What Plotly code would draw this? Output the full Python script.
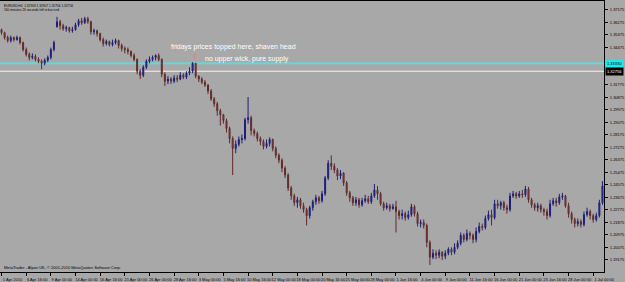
import plotly.graph_objects as go

# ---------------- data (EURUSD H4) ----------------
opens = [
    1.3575, 1.3553, 1.3518, 1.3496, 1.3518, 1.3503, 1.3518, 1.3482, 1.3432, 1.3397,
    1.3375, 1.3382, 1.3361, 1.3347, 1.3333, 1.3354, 1.3375, 1.3432, 1.3596, 1.3632,
    1.3603, 1.3582, 1.3589, 1.3567, 1.3575, 1.3610, 1.3639, 1.3624, 1.3653, 1.3632,
    1.3560, 1.3567, 1.3546, 1.3503, 1.3475, 1.3489, 1.3468, 1.3482, 1.3496, 1.3461,
    1.3439, 1.3432, 1.3418, 1.3389, 1.3361, 1.3276, 1.3247, 1.3304, 1.3347, 1.3361,
    1.3375, 1.3389, 1.3361, 1.3254, 1.3204, 1.3219, 1.3204, 1.3226, 1.3219, 1.3247,
    1.3233, 1.3261, 1.3276, 1.3333, 1.3240, 1.3219, 1.3197, 1.3176, 1.3133, 1.3076,
    1.3041, 1.2991, 1.2962, 1.2920, 1.2863, 1.2791, 1.2720, 1.2749, 1.2784, 1.2791,
    1.2927, 1.2941, 1.2848, 1.2827, 1.2791, 1.2770, 1.2734, 1.2756, 1.2784, 1.2720,
    1.2670, 1.2635, 1.2578, 1.2528, 1.2435, 1.2378, 1.2329, 1.2350, 1.2307, 1.2279,
    1.2236, 1.2293, 1.2336, 1.2364, 1.2343, 1.2393, 1.2507, 1.2613, 1.2592, 1.2564,
    1.2521, 1.2542, 1.2471, 1.2400, 1.2364, 1.2329, 1.2350, 1.2314, 1.2343, 1.2357,
    1.2336, 1.2378, 1.2421, 1.2393, 1.2321, 1.2293, 1.2307, 1.2286, 1.2300, 1.2265,
    1.2236, 1.2250, 1.2222, 1.2243, 1.2300, 1.2250, 1.2179, 1.2186, 1.2165, 1.2044,
    1.1937, 1.1965, 1.1951, 1.1973, 1.1944, 1.1965, 1.1994, 1.1973, 1.2008, 1.2037,
    1.2094, 1.2065, 1.2108, 1.2094, 1.2065, 1.2122, 1.2158, 1.2151, 1.2215, 1.2243,
    1.2222, 1.2321, 1.2307, 1.2329, 1.2293, 1.2279, 1.2378, 1.2393, 1.2378, 1.2393,
    1.2386, 1.2428, 1.2350, 1.2314, 1.2293, 1.2307, 1.2279, 1.2265, 1.2236, 1.2321,
    1.2343, 1.2329, 1.2371, 1.2378, 1.2307, 1.2250, 1.2208, 1.2179, 1.2193, 1.2172,
    1.2243, 1.2265, 1.2236, 1.2208, 1.2236, 1.2329,
]
highs = [
    1.3582, 1.3560, 1.3532, 1.3532, 1.3525, 1.3532, 1.3525, 1.3489, 1.3446, 1.3411,
    1.3404, 1.3397, 1.3375, 1.3361, 1.3368, 1.3389, 1.3446, 1.3496, 1.3667, 1.3646,
    1.3617, 1.3603, 1.3596, 1.3596, 1.3624, 1.3653, 1.3660, 1.3667, 1.3667, 1.3639,
    1.3582, 1.3575, 1.3553, 1.3518, 1.3503, 1.3496, 1.3503, 1.3511, 1.3503, 1.3475,
    1.3454, 1.3446, 1.3425, 1.3404, 1.3368, 1.3290, 1.3318, 1.3361, 1.3382, 1.3389,
    1.3397, 1.3404, 1.3368, 1.3268, 1.3240, 1.3233, 1.3247, 1.3247, 1.3268, 1.3261,
    1.3276, 1.3304, 1.3340, 1.3333, 1.3247, 1.3233, 1.3211, 1.3183, 1.3147, 1.3090,
    1.3055, 1.3005, 1.2969, 1.2934, 1.2877, 1.2806, 1.2777, 1.2806, 1.2820, 1.2941,
    1.3090, 1.2955, 1.2863, 1.2841, 1.2806, 1.2784, 1.2784, 1.2799, 1.2791, 1.2734,
    1.2685, 1.2649, 1.2592, 1.2542, 1.2450, 1.2393, 1.2371, 1.2364, 1.2329, 1.2293,
    1.2307, 1.2350, 1.2386, 1.2378, 1.2414, 1.2521, 1.2635, 1.2670, 1.2613, 1.2578,
    1.2564, 1.2549, 1.2485, 1.2414, 1.2378, 1.2371, 1.2364, 1.2364, 1.2386, 1.2378,
    1.2400, 1.2464, 1.2450, 1.2407, 1.2336, 1.2329, 1.2321, 1.2321, 1.2343, 1.2279,
    1.2279, 1.2265, 1.2272, 1.2321, 1.2314, 1.2265, 1.2208, 1.2208, 1.2179, 1.2058,
    1.1994, 1.1987, 1.1994, 1.1980, 1.1987, 1.2008, 1.2008, 1.2037, 1.2058, 1.2115,
    1.2108, 1.2136, 1.2122, 1.2108, 1.2151, 1.2186, 1.2179, 1.2236, 1.2272, 1.2279,
    1.2350, 1.2350, 1.2343, 1.2343, 1.2314, 1.2400, 1.2414, 1.2407, 1.2414, 1.2421,
    1.2450, 1.2443, 1.2364, 1.2329, 1.2329, 1.2321, 1.2293, 1.2286, 1.2350, 1.2364,
    1.2364, 1.2393, 1.2400, 1.2386, 1.2329, 1.2265, 1.2222, 1.2215, 1.2208, 1.2265,
    1.2293, 1.2279, 1.2250, 1.2257, 1.2350, 1.2485,
]
lows = [
    1.3539, 1.3503, 1.3482, 1.3482, 1.3489, 1.3496, 1.3468, 1.3418, 1.3382, 1.3354,
    1.3361, 1.3347, 1.3333, 1.3290, 1.3318, 1.3340, 1.3361, 1.3418, 1.3589, 1.3575,
    1.3567, 1.3560, 1.3553, 1.3553, 1.3567, 1.3596, 1.3610, 1.3617, 1.3617, 1.3539,
    1.3539, 1.3525, 1.3489, 1.3454, 1.3461, 1.3454, 1.3454, 1.3468, 1.3439, 1.3418,
    1.3404, 1.3397, 1.3375, 1.3347, 1.3254, 1.3219, 1.3233, 1.3290, 1.3333, 1.3347,
    1.3354, 1.3347, 1.3233, 1.3169, 1.3183, 1.3183, 1.3190, 1.3197, 1.3211, 1.3219,
    1.3219, 1.3247, 1.3261, 1.3226, 1.3197, 1.3183, 1.3162, 1.3112, 1.3062, 1.3019,
    1.2955, 1.2884, 1.2898, 1.2834, 1.2756, 1.2528, 1.2685, 1.2734, 1.2756, 1.2777,
    1.2898, 1.2813, 1.2806, 1.2770, 1.2742, 1.2713, 1.2720, 1.2734, 1.2699, 1.2649,
    1.2613, 1.2549, 1.2507, 1.2414, 1.2350, 1.2307, 1.2293, 1.2286, 1.2257, 1.2165,
    1.2215, 1.2272, 1.2314, 1.2321, 1.2329, 1.2378, 1.2492, 1.2564, 1.2542, 1.2492,
    1.2499, 1.2450, 1.2378, 1.2336, 1.2307, 1.2307, 1.2293, 1.2300, 1.2329, 1.2321,
    1.2321, 1.2364, 1.2350, 1.2307, 1.2272, 1.2279, 1.2265, 1.2279, 1.2115, 1.2208,
    1.2208, 1.2200, 1.2208, 1.2229, 1.2229, 1.2158, 1.2151, 1.2143, 1.2008, 1.1880,
    1.1923, 1.1923, 1.1930, 1.1916, 1.1923, 1.1951, 1.1951, 1.1958, 1.1994, 1.2022,
    1.2044, 1.2051, 1.2065, 1.2037, 1.2044, 1.2108, 1.2129, 1.2136, 1.2200, 1.2165,
    1.2208, 1.2286, 1.2279, 1.2272, 1.2250, 1.2265, 1.2364, 1.2357, 1.2364, 1.2364,
    1.2371, 1.2329, 1.2293, 1.2272, 1.2265, 1.2257, 1.2236, 1.2208, 1.2222, 1.2307,
    1.2300, 1.2314, 1.2350, 1.2293, 1.2222, 1.2179, 1.2151, 1.2158, 1.2151, 1.2158,
    1.2229, 1.2208, 1.2186, 1.2193, 1.2222, 1.2314,
]
closes = [
    1.3553, 1.3518, 1.3496, 1.3518, 1.3503, 1.3518, 1.3482, 1.3432, 1.3397, 1.3375,
    1.3382, 1.3361, 1.3347, 1.3333, 1.3354, 1.3375, 1.3432, 1.3482, 1.3632, 1.3603,
    1.3582, 1.3589, 1.3567, 1.3575, 1.3610, 1.3639, 1.3624, 1.3653, 1.3632, 1.3560,
    1.3567, 1.3546, 1.3503, 1.3475, 1.3489, 1.3468, 1.3482, 1.3496, 1.3461, 1.3439,
    1.3432, 1.3418, 1.3389, 1.3361, 1.3276, 1.3247, 1.3304, 1.3347, 1.3361, 1.3375,
    1.3389, 1.3361, 1.3254, 1.3204, 1.3219, 1.3204, 1.3226, 1.3219, 1.3247, 1.3233,
    1.3261, 1.3276, 1.3333, 1.3240, 1.3219, 1.3197, 1.3176, 1.3133, 1.3076, 1.3041,
    1.2991, 1.2962, 1.2920, 1.2863, 1.2791, 1.2720, 1.2749, 1.2784, 1.2791, 1.2927,
    1.2941, 1.2848, 1.2827, 1.2791, 1.2770, 1.2734, 1.2756, 1.2784, 1.2720, 1.2670,
    1.2635, 1.2578, 1.2528, 1.2435, 1.2378, 1.2329, 1.2350, 1.2307, 1.2279, 1.2236,
    1.2293, 1.2336, 1.2364, 1.2343, 1.2393, 1.2507, 1.2613, 1.2592, 1.2564, 1.2521,
    1.2542, 1.2471, 1.2400, 1.2364, 1.2329, 1.2350, 1.2314, 1.2343, 1.2357, 1.2336,
    1.2378, 1.2421, 1.2393, 1.2321, 1.2293, 1.2307, 1.2286, 1.2300, 1.2265, 1.2236,
    1.2250, 1.2222, 1.2243, 1.2300, 1.2250, 1.2179, 1.2186, 1.2165, 1.2044, 1.1937,
    1.1965, 1.1951, 1.1973, 1.1944, 1.1965, 1.1994, 1.1973, 1.2008, 1.2037, 1.2094,
    1.2065, 1.2108, 1.2094, 1.2065, 1.2122, 1.2158, 1.2151, 1.2215, 1.2243, 1.2222,
    1.2321, 1.2307, 1.2329, 1.2293, 1.2279, 1.2378, 1.2393, 1.2378, 1.2393, 1.2386,
    1.2428, 1.2350, 1.2314, 1.2293, 1.2307, 1.2279, 1.2265, 1.2236, 1.2321, 1.2343,
    1.2329, 1.2371, 1.2378, 1.2307, 1.2250, 1.2208, 1.2179, 1.2193, 1.2172, 1.2243,
    1.2265, 1.2236, 1.2208, 1.2236, 1.2329, 1.2450,
]
assert len(opens) == len(highs) == len(lows) == len(closes) == 196

# time-axis labels and the bar index each one sits on
time_labels = [
    "1 Apr 2010", "6 Apr 16:00", "9 Apr 00:00", "14 Apr 00:00", "16 Apr 16:00",
    "21 Apr 00:00", "26 Apr 00:00", "28 Apr 16:00", "3 May 00:00", "5 May 16:00",
    "10 May 16:00", "12 May 00:00", "18 May 00:00", "20 May 16:00", "25 May 00:00",
    "28 May 00:00", "1 Jun 16:00", "4 Jun 00:00", "9 Jun 00:00", "11 Jun 16:00",
    "16 Jun 00:00", "21 Jun 00:00", "23 Jun 16:00", "28 Jun 00:00", "1 Jul 00:00",
]
time_label_bars = [0, 8, 16, 24, 32, 40, 48, 56, 64, 72, 80, 88, 96, 104, 112,
                   120, 128, 136, 144, 152, 160, 168, 176, 184, 192]

# price-axis ticks (the two hidden under the line labels are left out)
price_ticks = [1.37175, 1.36275, 1.35375, 1.34475, 1.31775,
               1.30875, 1.29975, 1.29075, 1.28175, 1.27275, 1.26375, 1.25475,
               1.24575, 1.23675, 1.22775, 1.21875, 1.20975, 1.20075, 1.19175]

bid_price = 1.32756          # white bid line
resistance_level = 1.33330   # cyan line drawn at Friday's top
shaven_bar = 63              # the bar with no upper wick
y_range = [1.18302, 1.37811]

header_line1 = "EURUSD,H4  1.32903 1.32907 1.32756 1.32756"
header_line2 = "160 minutes 26 seconds left to bar end"
note_line1 = "fridays prices topped here, shaven head"
note_line2 = "no upper wick, pure supply"
copyright_text = "MetaTrader - Alpari UK, \u00a9 2001-2010 MetaQuotes Software Corp."

# ---------------- figure ----------------
BG = "#A8A8A8"
bars = list(range(len(closes)))

fig = go.Figure()
fig.add_trace(go.Candlestick(
    x=bars, open=opens, high=highs, low=lows, close=closes,
    increasing=dict(line=dict(color="#1E1E78", width=1), fillcolor="#2A2A9C"),
    decreasing=dict(line=dict(color="#5E2A2A", width=1), fillcolor="#A04646"),
    whiskerwidth=0, showlegend=False, hoverinfo="skip",
))

# horizontal lines
fig.add_shape(type="line", xref="paper", x0=0, x1=1, yref="y",
              y0=resistance_level, y1=resistance_level,
              line=dict(color="rgb(104,214,214)", width=2), layer="below")
fig.add_shape(type="line", xref="paper", x0=0, x1=1, yref="y",
              y0=bid_price, y1=bid_price,
              line=dict(color="#F4F4F4", width=1), layer="below")

ann = []
# price labels on the axis for the two lines
ann.append(dict(xref="paper", x=1.0, xanchor="left", yref="y", y=resistance_level,
                yanchor="middle", text=f"{resistance_level:.5f}", showarrow=False,
                font=dict(size=4, color="#000000", family="Liberation Sans"),
                bgcolor="#20E8E8", borderpad=1, xshift=1))
ann.append(dict(xref="paper", x=1.0, xanchor="left", yref="y", y=bid_price,
                yanchor="middle", text=f"{bid_price:.5f}", showarrow=False,
                font=dict(size=4, color="#FFFFFF", family="Liberation Sans"),
                bgcolor="#000000", borderpad=1, xshift=1))
# header
ann.append(dict(xref="paper", yref="paper", x=0.003, y=0.996, xanchor="left",
                yanchor="top", text=header_line1, showarrow=False,
                font=dict(size=3.2, color="#000000", family="Liberation Sans")))
ann.append(dict(xref="paper", yref="paper", x=0.003, y=0.982, xanchor="left",
                yanchor="top", text=header_line2, showarrow=False,
                font=dict(size=3.2, color="#000000", family="Liberation Sans")))
# notes
ann.append(dict(xref="paper", yref="paper", x=0.2803, y=0.8285, xanchor="left",
                yanchor="middle", text=note_line1, showarrow=False,
                font=dict(size=7, color="#FFFFFF", family="Liberation Sans")))
ann.append(dict(xref="paper", yref="paper", x=0.3361, y=0.7847, xanchor="left",
                yanchor="middle", text=note_line2, showarrow=False,
                font=dict(size=7, color="#FFFFFF", family="Liberation Sans")))
# arrow above the shaven-head bar
ann.append(dict(xref="x", yref="y", x=shaven_bar, y=highs[shaven_bar],
                yanchor="bottom", text="\u21e9", showarrow=False, yshift=0,
                font=dict(size=8, color="#F07070", family="DejaVu Sans")))
# copyright
ann.append(dict(xref="paper", yref="paper", x=0.003, y=0.016, xanchor="left",
                yanchor="middle", text=copyright_text, showarrow=False,
                font=dict(size=4, color="#000000", family="Liberation Sans")))

fig.update_layout(
    width=625, height=282,
    margin=dict(l=0, r=15, t=1, b=7),
    paper_bgcolor=BG, plot_bgcolor=BG,
    showlegend=False,
    boxgap=0.55,
    annotations=ann,
    xaxis=dict(
        range=[-0.5, len(closes) - 0.5], rangeslider=dict(visible=False),
        tickmode="array", tickvals=time_label_bars, ticktext=time_labels,
        tickangle=0,
        ticks="outside", ticklen=3, tickcolor="#000000", tickwidth=1,
        tickfont=dict(size=4, color="#000000", family="Liberation Sans"),
        ticklabelshift=11, ticklabelstandoff=0,
        showgrid=False, zeroline=False,
        showline=True, linecolor="#000000", linewidth=1, mirror=True,
    ),
    yaxis=dict(
        side="right", range=y_range,
        tickmode="array", tickvals=price_ticks,
        ticktext=[f"{v:.5f}" for v in price_ticks],
        ticks="outside", ticklen=3, tickcolor="#000000", tickwidth=1,
        tickfont=dict(size=4, color="#000000", family="Liberation Sans"),
        ticklabelstandoff=1,
        showgrid=False, zeroline=False,
        showline=True, linecolor="#000000", linewidth=1,
    ),
)

fig.write_html("out.html")
